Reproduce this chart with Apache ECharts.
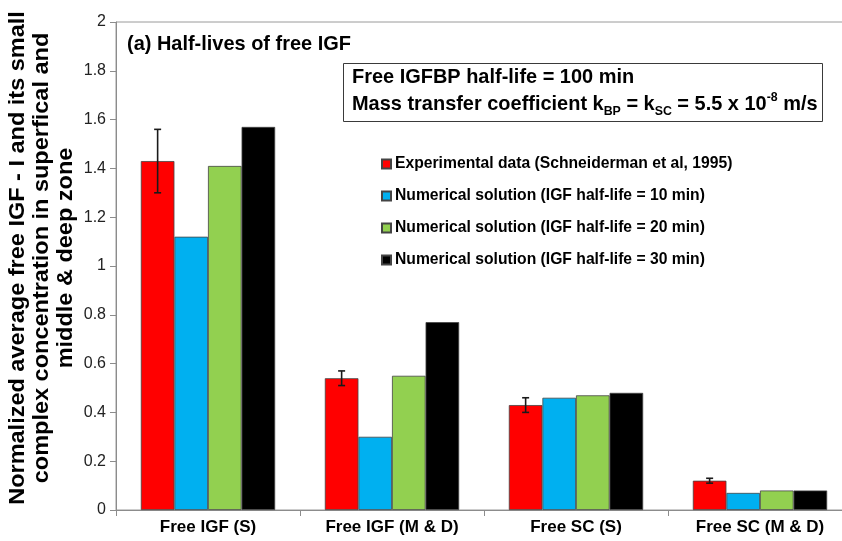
<!DOCTYPE html>
<html>
<head>
<meta charset="utf-8">
<script src="https://cdn.jsdelivr.net/npm/echarts@6/dist/echarts.min.js"></script>
<style>html,body{margin:0;padding:0;background:#fff;overflow:hidden;}#c{width:852px;height:541px;}</style>
</head>
<body>
<div id="c"></div>
<script>
const categories = ['Free IGF (S)', 'Free IGF (M & D)', 'Free SC (S)', 'Free SC (M & D)'];
const seriesNames = [
  'Experimental data (Schneiderman et al, 1995)',
  'Numerical solution (IGF half-life = 10 min)',
  'Numerical solution (IGF half-life = 20 min)',
  'Numerical solution (IGF half-life = 30 min)'
];
const experimental = [1.43, 0.54, 0.43, 0.12];
const halfLife10 = [1.12, 0.30, 0.46, 0.07];
const halfLife20 = [1.41, 0.55, 0.47, 0.08];
const halfLife30 = [1.57, 0.77, 0.48, 0.08];
const errLow = [1.30, 0.51, 0.40, 0.11];
const errHigh = [1.56, 0.57, 0.46, 0.13];
const yTicks = [0, 0.2, 0.4, 0.6, 0.8, 1, 1.2, 1.4, 1.6, 1.8, 2];
const yAxisTitle = 'Normalized average free IGF - I and its small\ncomplex concentration in superfical and\nmiddle & deep zone';
const chartTitle = '(a) Half-lives of free IGF';

const colors = ['#ff0000', '#00b0f0', '#92d050', '#000000'];
const font = "'Liberation Sans',Arial,sans-serif";
const gapRatio = 0.27;

const chart = echarts.init(document.getElementById('c'), null, {renderer: 'canvas'});
const valueSets = [experimental, halfLife10, halfLife20, halfLife30];
const barSeries = valueSets.map((vals, i) => ({
  name: seriesNames[i],
  type: 'bar',
  data: vals,
  barGap: '0%',
  barCategoryGap: (gapRatio * 100) + '%',
  itemStyle: {color: colors[i], borderColor: '#444', borderWidth: 0.8},
  emphasis: {disabled: true}
}));

const errSeries = {
  type: 'custom',
  name: 'err',
  data: categories.map((c, i) => [i, errLow[i], errHigh[i]]),
  z: 10,
  silent: true,
  renderItem: function (params, api) {
    const idx = api.value(0);
    const lo = api.coord([idx, api.value(1)]);
    const hi = api.coord([idx, api.value(2)]);
    const band = api.size([1, 0])[0];
    const barW = band * (1 - gapRatio) / 4;
    const x = lo[0] - 1.5 * barW;
    const cap = 3.5;
    const style = {stroke: '#1a1a1a', lineWidth: 1.6};
    return {
      type: 'group',
      children: [
        {type: 'line', shape: {x1: x, y1: lo[1], x2: x, y2: hi[1]}, style: style},
        {type: 'line', shape: {x1: x - cap, y1: lo[1], x2: x + cap, y2: lo[1]}, style: style},
        {type: 'line', shape: {x1: x - cap, y1: hi[1], x2: x + cap, y2: hi[1]}, style: style}
      ]
    };
  }
};

const option = {
  animation: false,
  backgroundColor: '#fff',
  grid: {left: 116, top: 22, right: 0, bottom: 31, show: true, borderColor: '#9a9a9a', borderWidth: 1, containLabel: false},
  legend: {
    data: seriesNames,
    orient: 'vertical',
    left: 381,
    top: 156,
    padding: 0,
    itemWidth: 9,
    itemHeight: 9,
    itemGap: 16,
    icon: 'rect',
    selectedMode: false,
    textStyle: {fontFamily: font, fontWeight: 'bold', fontSize: 15.7, color: '#000', padding: [0, 0, 0, -1]}
  },
  xAxis: {
    type: 'category',
    data: categories,
    axisLine: {lineStyle: {color: '#8c8c8c', width: 1}},
    axisTick: {show: true, length: 6, lineStyle: {color: '#8c8c8c'}},
    axisLabel: {fontFamily: font, fontWeight: 'bold', fontSize: 17, color: '#000', margin: 9}
  },
  yAxis: {
    type: 'value',
    min: yTicks[0],
    max: yTicks[yTicks.length - 1],
    interval: 0.2,
    splitLine: {show: false},
    axisLine: {show: true, lineStyle: {color: '#8c8c8c', width: 1}},
    axisTick: {show: true, length: 6, lineStyle: {color: '#8c8c8c'}},
    axisLabel: {fontFamily: font, fontSize: 16, color: '#222', margin: 10,
      formatter: v => String(Math.round(v * 10) / 10)}
  },
  graphic: [
    {type: 'text', x: 42, y: 258, rotation: Math.PI / 2, scaleY: 0.9, z: 6,
      style: {text: yAxisTitle, fontFamily: font, fontWeight: 'bold', fontSize: 23.5, lineHeight: 27,
        fill: '#000', align: 'center', verticalAlign: 'middle'}},
    {type: 'text', x: 127, y: 34, scaleX: 0.95, z: 6,
      style: {text: chartTitle, fontFamily: font, fontWeight: 'bold', fontSize: 21, fill: '#000'}},
    {type: 'rect', x: 343.5, y: 63.5, shape: {width: 479, height: 58}, style: {fill: '#fff', stroke: '#3a3a3a', lineWidth: 1}, z: 5},
    {type: 'text', x: 352, y: 64, scaleX: 0.95, z: 6, style: {
      text: '{m|Free IGFBP half-life = 100 min}\n{m|Mass transfer coefficient k}{sub|BP}{m| = k}{sub|SC}{m| = 5.5 x 10}{sup|-8}{m| m/s}',
      fontFamily: font, fontWeight: 'bold', fontSize: 21, fill: '#000', lineHeight: 27,
      rich: {
        m: {fontFamily: font, fontWeight: 'bold', fontSize: 21, lineHeight: 27, fill: '#000'},
        sub: {fontFamily: font, fontWeight: 'bold', fontSize: 13, lineHeight: 27, verticalAlign: 'bottom', fill: '#000'},
        sup: {fontFamily: font, fontWeight: 'bold', fontSize: 13, lineHeight: 27, verticalAlign: 'top', fill: '#000'}
      }
    }}
  ],
  series: barSeries.concat([errSeries])
};
chart.setOption(option);
</script>
</body>
</html>
